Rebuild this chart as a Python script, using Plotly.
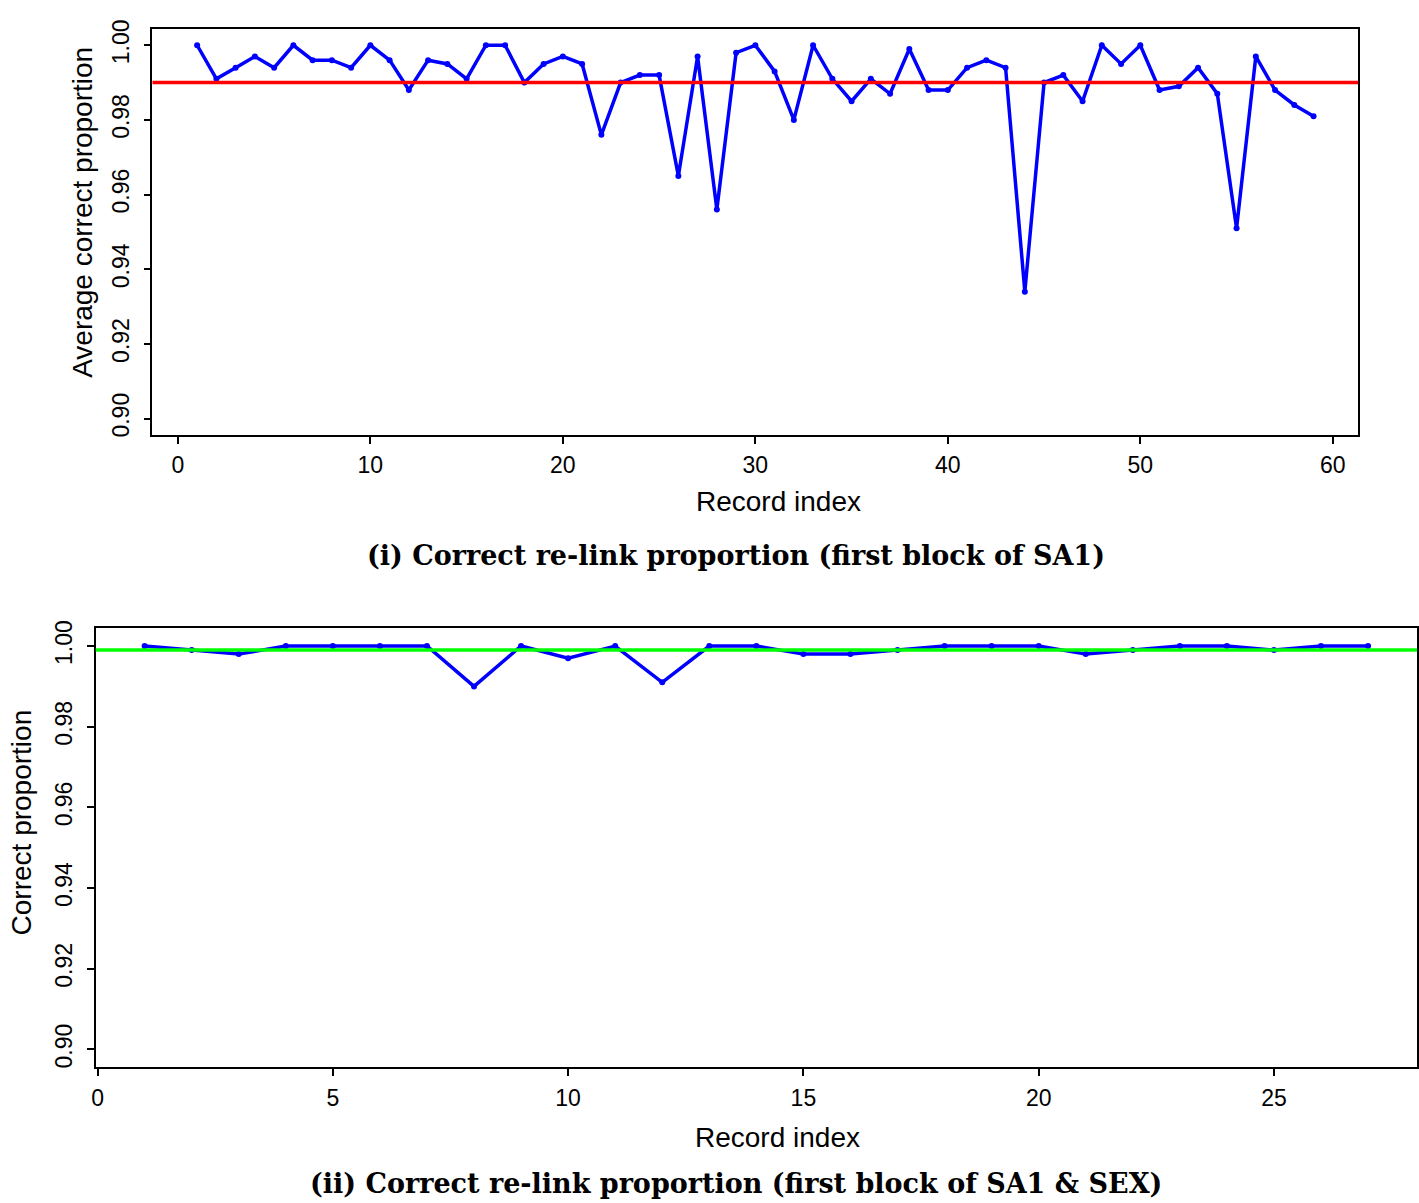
import plotly.graph_objects as go

W, H = 1419, 1203

# ---- data: panel (i) ----
idx_top = list(range(1, 60))
prop_top = [1.000, 0.991, 0.994, 0.997, 0.994, 1.000, 0.996, 0.996, 0.994, 1.000,
            0.996, 0.988, 0.996, 0.995, 0.991, 1.000, 1.000, 0.990, 0.995, 0.997,
            0.995, 0.976, 0.990, 0.992, 0.992, 0.965, 0.997, 0.956, 0.998, 1.000,
            0.993, 0.980, 1.000, 0.991, 0.985, 0.991, 0.987, 0.999, 0.988, 0.988,
            0.994, 0.996, 0.994, 0.934, 0.990, 0.992, 0.985, 1.000, 0.995, 1.000,
            0.988, 0.989, 0.994, 0.987, 0.951, 0.997, 0.988, 0.984, 0.981]
mean_top = 0.990

# ---- data: panel (ii) ----
idx_bot = list(range(1, 28))
prop_bot = [1.000, 0.999, 0.998, 1.000, 1.000, 1.000, 1.000, 0.990, 1.000, 0.997,
            1.000, 0.991, 1.000, 1.000, 0.998, 0.998, 0.999, 1.000, 1.000, 1.000,
            0.998, 0.999, 1.000, 1.000, 0.999, 1.000, 1.000]
mean_bot = 0.999

y_ticks = [0.90, 0.92, 0.94, 0.96, 0.98, 1.00]
x_ticks_top = [0, 10, 20, 30, 40, 50, 60]
x_ticks_bot = [0, 5, 10, 15, 20, 25]

title_top = "(i) Correct re-link proportion (first block of SA1)"
title_bot = "(ii) Correct re-link proportion (first block of SA1 &amp; SEX)"
ylab_top = "Average correct proportion"
ylab_bot = "Correct proportion"
xlab = "Record index"

fig = go.Figure()
fig.add_trace(go.Scatter(x=idx_top, y=prop_top, mode="lines+markers",
                         line=dict(color="#0000FF", width=3.5),
                         marker=dict(color="#0000FF", size=6),
                         xaxis="x", yaxis="y", showlegend=False))
fig.add_trace(go.Scatter(x=idx_bot, y=prop_bot, mode="lines+markers",
                         line=dict(color="#0000FF", width=3.5),
                         marker=dict(color="#0000FF", size=6),
                         xaxis="x2", yaxis="y2", showlegend=False))

fig.add_shape(type="line", xref="x domain", yref="y", x0=0, x1=1,
              y0=mean_top, y1=mean_top, line=dict(color="#FF0000", width=3.5))
fig.add_shape(type="line", xref="x2 domain", yref="y2", x0=0, x1=1,
              y0=mean_bot, y1=mean_bot, line=dict(color="#00FF00", width=3.5))

tickfont = dict(family="Liberation Sans, Arial", size=23, color="black")
common = dict(showgrid=False, zeroline=False, showline=True, mirror=True,
              linecolor="black", linewidth=1.5, ticks="outside", ticklen=7,
              tickwidth=1.5, tickcolor="black", tickfont=tickfont)

def px_x(p):
    return p / W

def px_y(p):
    return 1 - p / H

fig.update_layout(
    width=W, height=H,
    margin=dict(l=0, r=0, t=0, b=0),
    paper_bgcolor="white", plot_bgcolor="white",
    xaxis=dict(domain=[px_x(148), px_x(1358)], range=[-1.32, 61.32],
               tickvals=x_ticks_top, anchor="y", ticklabelstandoff=2, **common),
    yaxis=dict(domain=[px_y(430), px_y(20)], range=[0.8956, 1.0044],
               tickvals=y_ticks, tickformat=".2f", tickangle=-90, anchor="x",
               ticklabelstandoff=6, **common),
    xaxis2=dict(domain=[px_x(91), px_x(1417)], range=[-0.04, 28.04],
                tickvals=x_ticks_bot, anchor="y2", ticklabelstandoff=2, **common),
    yaxis2=dict(domain=[px_y(1068), px_y(625)], range=[0.8956, 1.0044],
                tickvals=y_ticks, tickformat=".2f", tickangle=-90, anchor="x2",
                ticklabelstandoff=6, **common),
)

labfont = dict(family="Liberation Sans, Arial", size=28, color="black")
titlefont = dict(family="DejaVu Serif", size=27, color="black")

ann = [
    dict(text=xlab, x=px_x(776), y=px_y(497), font=labfont),
    dict(text=xlab, x=px_x(775), y=px_y(1139), font=labfont),
    dict(text=ylab_top, x=px_x(77), y=px_y(205), font=labfont, textangle=-90),
    dict(text=ylab_bot, x=px_x(17), y=px_y(821), font=labfont, textangle=-90),
    dict(text="<b>" + title_top + "</b>", x=px_x(734), y=px_y(552), font=titlefont),
    dict(text="<b>" + title_bot + "</b>", x=px_x(734), y=px_y(1185), font=titlefont),
]
for a in ann:
    a.update(xref="paper", yref="paper", xanchor="center", yanchor="middle",
             showarrow=False)
    fig.add_annotation(**a)

fig.write_html("out.html",
               config={"displayModeBar": False},
               post_script="document.body.style.margin='0';"
                           "document.body.style.padding='0';"
                           "document.documentElement.style.overflow='hidden';"
                           "var d=document.getElementById('{plot_id}');"
                           "d.style.position='fixed';d.style.left='0px';d.style.top='0px';")
